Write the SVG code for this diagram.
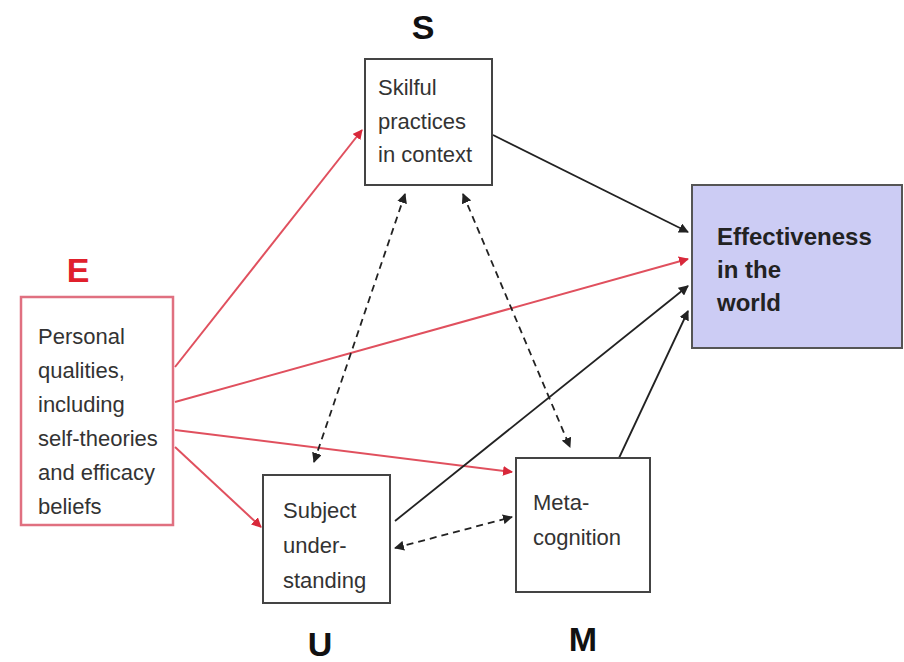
<svg xmlns="http://www.w3.org/2000/svg" width="904" height="662" viewBox="0 0 904 662">
<defs>
<marker id="ab" viewBox="0 0 10 10" refX="9" refY="5" markerWidth="10" markerHeight="10" markerUnits="userSpaceOnUse" orient="auto-start-reverse"><path d="M0,0 L10,5 L0,10 z" fill="#222"/></marker>
<marker id="ar" viewBox="0 0 10 10" refX="9" refY="5" markerWidth="10" markerHeight="10" markerUnits="userSpaceOnUse" orient="auto"><path d="M0,0 L10,5 L0,10 z" fill="#d8283a"/></marker>
<style>
.box{fill:#fff;stroke:#444;stroke-width:2}
.t{font-family:"Liberation Sans",Arial,sans-serif;font-size:22px;fill:#333}
.tb{font-family:"Liberation Sans",Arial,sans-serif;font-size:24px;font-weight:bold;fill:#222}
.lab{font-family:"Liberation Sans",Arial,sans-serif;font-size:34px;font-weight:bold;fill:#111;text-anchor:middle}
.red{stroke:#e0505e;stroke-width:2;fill:none}
.blk{stroke:#222;stroke-width:1.8;fill:none}
.dash{stroke:#222;stroke-width:1.8;fill:none;stroke-dasharray:7,5}
</style>
</defs>
<rect width="904" height="662" fill="#fff"/>
<g id="connectors">
<line class="red" x1="175" y1="367" x2="362" y2="130" marker-end="url(#ar)"/>
<line class="red" x1="175" y1="402" x2="688" y2="259" marker-end="url(#ar)"/>
<line class="red" x1="175" y1="430" x2="512" y2="472" marker-end="url(#ar)"/>
<line class="red" x1="175" y1="447" x2="261" y2="527" marker-end="url(#ar)"/>
<line class="blk" x1="493" y1="135" x2="688" y2="232" marker-end="url(#ab)"/>
<line class="blk" x1="395" y1="521" x2="688" y2="286" marker-end="url(#ab)"/>
<line class="blk" x1="619" y1="458" x2="688" y2="311" marker-end="url(#ab)"/>
<line class="dash" x1="314" y1="462" x2="405" y2="194" marker-start="url(#ab)" marker-end="url(#ab)"/>
<line class="dash" x1="463" y1="194" x2="570" y2="447" marker-start="url(#ab)" marker-end="url(#ab)"/>
<line class="dash" x1="395" y1="548" x2="512" y2="517" marker-start="url(#ab)" marker-end="url(#ab)"/>
</g>
<g id="nodeE">
<rect x="21" y="297" width="152" height="228" fill="#fff" stroke="#e07080" stroke-width="2.5"/>
<text x="78" y="282" class="lab" style="fill:#e0202c">E</text>
<text class="t" x="38" y="344">Personal</text>
<text class="t" x="38" y="378">qualities,</text>
<text class="t" x="38" y="412">including</text>
<text class="t" x="38" y="446">self-theories</text>
<text class="t" x="38" y="480">and efficacy</text>
<text class="t" x="38" y="514">beliefs</text>
</g>
<g id="nodeS">
<rect class="box" x="365" y="59" width="127" height="126"/>
<text x="423" y="39" class="lab">S</text>
<text class="t" x="378" y="95">Skilful</text>
<text class="t" x="378" y="129">practices</text>
<text class="t" x="378" y="162">in context</text>
</g>
<g id="nodeEff">
<rect x="692" y="185" width="210" height="163" fill="#ccccf4" stroke="#555" stroke-width="2"/>
<text class="tb" x="717" y="245">Effectiveness</text>
<text class="tb" x="717" y="278">in the</text>
<text class="tb" x="717" y="311">world</text>
</g>
<g id="nodeU">
<rect class="box" x="263" y="475" width="127" height="128"/>
<text x="320" y="656" class="lab">U</text>
<text class="t" x="283" y="518">Subject</text>
<text class="t" x="283" y="553">under-</text>
<text class="t" x="283" y="588">standing</text>
</g>
<g id="nodeM">
<rect class="box" x="516" y="458" width="134" height="134"/>
<text x="583" y="651" class="lab">M</text>
<text class="t" x="533" y="510">Meta-</text>
<text class="t" x="533" y="545">cognition</text>
</g>
</svg>
